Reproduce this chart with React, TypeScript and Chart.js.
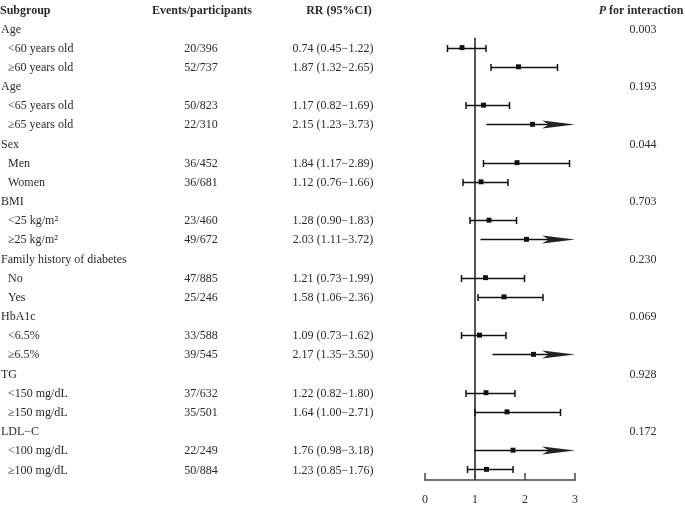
import React, { useEffect, useRef } from "react";
import { Chart, registerables } from "chart.js";

Chart.register(...registerables);

const groupNames = ["Age", "Age", "Sex", "BMI", "Family history of diabetes", "HbA1c", "TG", "LDL−C"];
const pInteraction = ["0.003", "0.193", "0.044", "0.703", "0.230", "0.069", "0.928", "0.172"];
const subLabels = [
  "<60 years old", "≥60 years old",
  "<65 years old", "≥65 years old",
  "Men", "Women",
  "<25 kg/m²", "≥25 kg/m²",
  "No", "Yes",
  "<6.5%", "≥6.5%",
  "<150 mg/dL", "≥150 mg/dL",
  "<100 mg/dL", "≥100 mg/dL",
];
const events = [
  "20/396", "52/737", "50/823", "22/310", "36/452", "36/681", "23/460", "49/672",
  "47/885", "25/246", "33/588", "39/545", "37/632", "35/501", "22/249", "50/884",
];
const rr = [0.74, 1.87, 1.17, 2.15, 1.84, 1.12, 1.28, 2.03, 1.21, 1.58, 1.09, 2.17, 1.22, 1.64, 1.76, 1.23];
const lo = [0.45, 1.32, 0.82, 1.23, 1.17, 0.76, 0.90, 1.11, 0.73, 1.06, 0.73, 1.35, 0.82, 1.00, 0.98, 0.85];
const hi = [1.22, 2.65, 1.69, 3.73, 2.89, 1.66, 1.83, 3.72, 1.99, 2.36, 1.62, 3.50, 1.80, 2.71, 3.18, 1.76];
const xTicks = [0, 1, 2, 3];
const xMin = 0;
const xMax = 3;

const fmt = (v: number) => v.toFixed(2);
const subRow = (i: number) => Math.floor(i / 2) * 3 + 1 + (i % 2);

export default function App() {
  const ref = useRef<HTMLCanvasElement>(null);
  useEffect(() => {
    if (!ref.current) return;
    const TEXT = "#2a2a2a";
    const serif = "'Liberation Serif', 'Times New Roman', serif";
    const forestPlugin = {
      id: "forest",
      afterDraw(chart: any) {
        const ctx = chart.ctx as CanvasRenderingContext2D;
        const xs = chart.scales.x;
        const ys = chart.scales.y;
        const area = chart.chartArea;
        ctx.save();
        // reference line at 1
        ctx.strokeStyle = "#555";
        ctx.lineWidth = 2;
        ctx.beginPath();
        ctx.moveTo(xs.getPixelForValue(1), ys.getPixelForValue(0.48));
        ctx.lineTo(xs.getPixelForValue(1), area.bottom);
        ctx.stroke();

        // CI lines
        ctx.strokeStyle = "#111";
        ctx.fillStyle = "#222";
        ctx.lineWidth = 1.5;
        for (let i = 0; i < rr.length; i++) {
          const y = Math.round(ys.getPixelForValue(subRow(i))) + 0.5;
          const x0 = xs.getPixelForValue(lo[i]);
          const over = hi[i] > xMax;
          const x1 = xs.getPixelForValue(Math.min(hi[i], xMax));
          ctx.beginPath();
          ctx.moveTo(x0, y);
          ctx.lineTo(over ? x1 - 20 : x1, y);
          ctx.stroke();
          if (!over) {
            ctx.beginPath();
            ctx.moveTo(x0, y - 3.5);
            ctx.lineTo(x0, y + 3.5);
            ctx.moveTo(x1, y - 3.5);
            ctx.lineTo(x1, y + 3.5);
            ctx.stroke();
          } else {
            ctx.beginPath();
            ctx.moveTo(x1, y);
            ctx.lineTo(x1 - 33, y - 4);
            ctx.lineTo(x1 - 26, y);
            ctx.lineTo(x1 - 33, y + 4);
            ctx.closePath();
            ctx.fill();
          }
        }

        // x axis
        const ay = area.bottom;
        ctx.strokeStyle = "#444";
        ctx.lineWidth = 1.5;
        ctx.beginPath();
        ctx.moveTo(xs.getPixelForValue(xMin), ay);
        ctx.lineTo(xs.getPixelForValue(xMax), ay);
        for (const t of xTicks) {
          const tx = xs.getPixelForValue(t);
          ctx.moveTo(tx, ay + 0.75);
          ctx.lineTo(tx, ay - 7);
        }
        ctx.stroke();
        ctx.fillStyle = TEXT;
        ctx.font = `12px ${serif}`;
        ctx.textAlign = "center";
        ctx.textBaseline = "middle";
        for (const t of xTicks) {
          ctx.fillText(String(t), xs.getPixelForValue(t), 500);
        }

        // headers
        const hy = ys.getPixelForValue(-1) + 1.5;
        ctx.font = `bold 12px ${serif}`;
        ctx.textAlign = "left";
        ctx.fillText("Subgroup", 0, hy);
        ctx.textAlign = "center";
        ctx.fillText("Events/participants", 202, hy);
        ctx.fillText("RR (95%CI)", 339, hy);
        // P for interaction (italic P)
        ctx.font = `italic bold 12px ${serif}`;
        const pW = ctx.measureText("P").width;
        ctx.font = `bold 12px ${serif}`;
        const restW = ctx.measureText(" for interaction").width;
        const px0 = 641 - (pW + restW) / 2;
        ctx.textAlign = "left";
        ctx.font = `italic bold 12px ${serif}`;
        ctx.fillText("P", px0, hy);
        ctx.font = `bold 12px ${serif}`;
        ctx.fillText(" for interaction", px0 + pW, hy);

        // rows
        ctx.font = `12px ${serif}`;
        for (let g = 0; g < groupNames.length; g++) {
          const y = ys.getPixelForValue(g * 3) + 1;
          ctx.textAlign = "left";
          ctx.fillText(groupNames[g], 1, y);
          ctx.textAlign = "center";
          ctx.fillText(pInteraction[g], 643, y);
        }
        for (let i = 0; i < subLabels.length; i++) {
          const y = ys.getPixelForValue(subRow(i)) + 1;
          ctx.textAlign = "left";
          ctx.fillText(subLabels[i], 8, y);
          ctx.textAlign = "center";
          ctx.fillText(events[i], 201, y);
          ctx.fillText(`${fmt(rr[i])} (${fmt(lo[i])}−${fmt(hi[i])})`, 333, y);
        }
        ctx.restore();
      },
    };

    const chart = new Chart(ref.current, {
      type: "scatter",
      data: {
        datasets: [
          {
            data: rr.map((v, i) => ({ x: v, y: subRow(i) })),
            pointStyle: "rect",
            pointRadius: 3.5,
            backgroundColor: "#111",
            borderColor: "#111",
            borderWidth: 0,
          },
        ],
      },
      options: {
        animation: false,
        responsive: false,
        layout: { padding: { left: 425, right: 110, top: 0, bottom: 25 } },
        plugins: { legend: { display: false }, tooltip: { enabled: false } },
        scales: {
          x: { type: "linear", min: xMin, max: xMax, display: false },
          y: { type: "linear", min: -1.276, max: 23.555, reverse: true, display: false },
        },
      },
      plugins: [forestPlugin],
    });
    return () => chart.destroy();
  }, []);

  return (
    <div style={{ position: "absolute", left: 0, top: 0, width: 685, height: 505, background: "#fff" }}>
      <canvas ref={ref} width={685} height={505} />
    </div>
  );
}
